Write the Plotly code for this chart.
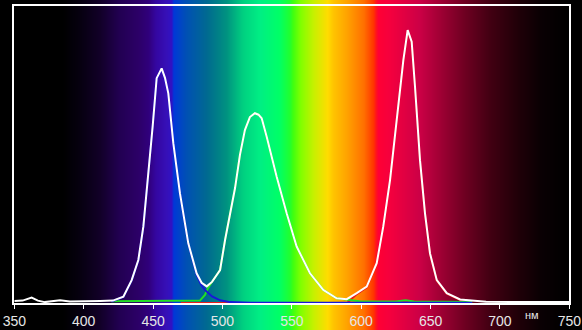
import base64
import struct
import zlib
import plotly.graph_objects as go

# ---- data ----
x_ticks = [350, 400, 450, 500, 550, 600, 650, 700, 750]
x_tick_labels = ["350", "400", "450", "500", "550", "600", "650", "700", "750"]
unit_label = "нм"

white_wl = [350, 356, 362.5, 367, 372, 378, 383, 390, 397, 405, 412, 421.1, 428.6, 434.6,
            439.4, 443.0, 446.6, 449.7, 452.6, 456.2, 458.6, 461.0, 464.6, 469.4, 475.4,
            481.4, 485.0, 488.7, 492.5, 498.3, 501.9, 505.5, 509.1, 512.6, 516.2, 519.8,
            523.4, 526, 528.3, 531.9, 539.1, 546.3, 553.5, 563.1, 572.7, 582.3, 589.6,
            596.8, 604.0, 611.2, 615.9, 620.8, 625.6, 630.4, 633.5, 636.4, 638.8, 642.4,
            646.0, 649.6, 654.5, 661.7, 671.3, 680.9, 690, 720, 750]
white_val = [0.007, 0.008, 0.018, 0.008, 0.003, 0.006, 0.009, 0.005, 0.005, 0.007, 0.007,
             0.008, 0.021, 0.077, 0.145, 0.257, 0.425, 0.594, 0.757, 0.790, 0.758, 0.706,
             0.538, 0.369, 0.201, 0.100, 0.068, 0.056, 0.071, 0.111, 0.212, 0.306, 0.387,
             0.498, 0.582, 0.626, 0.639, 0.634, 0.622, 0.560, 0.425, 0.302, 0.190, 0.100,
             0.044, 0.016, 0.013, 0.033, 0.055, 0.134, 0.257, 0.414, 0.616, 0.818, 0.919,
             0.880, 0.728, 0.481, 0.302, 0.167, 0.077, 0.033, 0.012, 0.008, 0.004, 0.003,
             0.003]

blue_wl = [420, 428.6, 434.6, 439.4, 443.0, 446.6, 449.7, 452.6, 456.2, 458.6, 461.0,
           464.6, 469.4, 475.4, 481.4, 484.5, 487.4, 492.5, 498.3, 505.5, 520, 680]
blue_val = [0.005, 0.020, 0.075, 0.143, 0.255, 0.423, 0.592, 0.755, 0.788, 0.756, 0.704,
            0.536, 0.367, 0.199, 0.095, 0.062, 0.044, 0.022, 0.009, 0.003, 0.001, 0.001]

green_wl = [420, 450, 480, 483.8, 487.4, 489.6, 492.5, 498.3, 501.9, 505.5, 509.1, 512.6,
            516.2, 519.8, 523.4, 526, 528.3, 531.9, 539.1, 546.3, 553.5, 563.1, 572.7,
            582.3, 589.6, 600, 625, 632, 638, 680]
green_val = [0.006, 0.006, 0.006, 0.008, 0.027, 0.050, 0.071, 0.111, 0.212, 0.306, 0.387,
             0.498, 0.582, 0.626, 0.639, 0.634, 0.622, 0.560, 0.425, 0.302, 0.190, 0.100,
             0.044, 0.016, 0.011, 0.005, 0.005, 0.009, 0.005, 0.003]

red_wl = [470, 500, 590, 596.8, 604.0, 611.2, 615.9, 620.8, 625.6, 630.4, 633.5, 636.4,
          638.8, 642.4, 646.0, 649.6, 654.5, 661.7, 671.3, 680]
red_val = [0.0, 0.0, 0.0, 0.030, 0.053, 0.132, 0.255, 0.412, 0.614, 0.816, 0.917, 0.878,
           0.726, 0.479, 0.300, 0.165, 0.075, 0.031, 0.010, 0.006]

# background spectrum gradient stops (wavelength, colour)
spec_stops = [(339.7, "#000000"), (385, "#000000"), (397, "#06000f"), (412, "#120028"),
              (426, "#220052"), (440, "#2c0068"), (447, "#30007c"), (452, "#3406a0"),
              (460, "#3610b8"), (463.5, "#3012c4"), (465, "#0038d8"), (474, "#0050b4"),
              (489, "#006a90"), (503, "#009280"), (515, "#00d080"), (527, "#00ee84"),
              (541, "#00ff66"), (548.5, "#20ff30"), (551, "#40ff10"), (556.5, "#80ff00"),
              (566, "#c8f000"), (576, "#ffdc00"), (580, "#ffc400"), (590.5, "#ffa000"),
              (602, "#ff7000"), (609, "#ff3400"), (611, "#ff1020"), (612.5, "#ff0034"),
              (621, "#f4003e"), (642, "#cc0046"), (657, "#a00034"), (674, "#700022"),
              (693, "#420012"), (713, "#200008"), (729, "#0a0003"), (749, "#000000"),
              (760, "#000000")]

# ---- geometry ----
W, H = 582, 330
x_left, x_right = 14.3, 569.3
y_top, y_bot = 6.0, 303.0
px_per_nm = (x_right - x_left) / (x_ticks[-1] - x_ticks[0])


def hex_rgb(h):
    return tuple(int(h[i:i + 2], 16) for i in (1, 3, 5))


def spectrum_rgb(wl):
    for (w0, c0), (w1, c1) in zip(spec_stops[:-1], spec_stops[1:]):
        if w0 <= wl <= w1:
            t = 0 if w1 == w0 else (wl - w0) / (w1 - w0)
            a, b = hex_rgb(c0), hex_rgb(c1)
            return tuple(int(round(a[k] + (b[k] - a[k]) * t)) for k in range(3))
    return (0, 0, 0)


def make_png(width, height, rgb_row):
    raw = b"".join(b"\x00" + bytes([v for px in rgb_row for v in px]) for _ in range(height))

    def chunk(tag, data):
        c = tag + data
        return struct.pack(">I", len(data)) + c + struct.pack(">I", zlib.crc32(c) & 0xffffffff)

    ihdr = struct.pack(">IIBBBBB", width, height, 8, 2, 0, 0, 0)
    return (b"\x89PNG\r\n\x1a\n" + chunk(b"IHDR", ihdr) + chunk(b"IDAT", zlib.compress(raw, 9))
            + chunk(b"IEND", b""))


row = [spectrum_rgb(x_ticks[0] + (px + 0.5 - x_left) / px_per_nm) for px in range(W)]
bg_src = "data:image/png;base64," + base64.b64encode(make_png(W, 2, row)).decode()

fig = go.Figure()
for wl, val, col in [(red_wl, red_val, "#e81c1c"), (green_wl, green_val, "#22e022"),
                     (blue_wl, blue_val, "#1818d8"), (white_wl, white_val, "#ffffff")]:
    fig.add_trace(go.Scatter(x=wl, y=val, mode="lines", line=dict(color=col, width=2),
                             hoverinfo="skip", showlegend=False))

fig.update_layout(
    width=W, height=H, margin=dict(l=0, r=0, t=0, b=0, autoexpand=False),
    paper_bgcolor="#000000", plot_bgcolor="rgba(0,0,0,0)", showlegend=False,
    images=[dict(source=bg_src, xref="paper", yref="paper", x=0, y=1, sizex=1, sizey=1,
                 xanchor="left", yanchor="top", sizing="stretch", layer="below")],
    xaxis=dict(domain=[x_left / W, x_right / W], range=[x_ticks[0], x_ticks[-1]],
               automargin=False, showgrid=False, zeroline=False, showline=True, mirror=True,
               linecolor="#ffffff", linewidth=2, ticks="outside", ticklen=4,
               tickcolor="#ffffff", tickwidth=1, tickvals=x_ticks, ticktext=x_tick_labels,
               tickfont=dict(family="Liberation Sans, Arial", size=14, color="#e6e6e6"),
               fixedrange=True),
    yaxis=dict(domain=[(H - y_bot) / H, (H - y_top) / H], range=[0, 1], automargin=False,
               showgrid=False, zeroline=False, showline=True, mirror=True,
               linecolor="#ffffff", linewidth=2, showticklabels=False, ticks="",
               fixedrange=True),
    annotations=[dict(text=unit_label, x=532 / W, y=(H - 315) / H, xref="paper",
                      yref="paper", showarrow=False, xanchor="center", yanchor="middle",
                      font=dict(family="Liberation Sans, Arial", size=11, color="#e6e6e6"))],
)

fig.write_html("out.html")
